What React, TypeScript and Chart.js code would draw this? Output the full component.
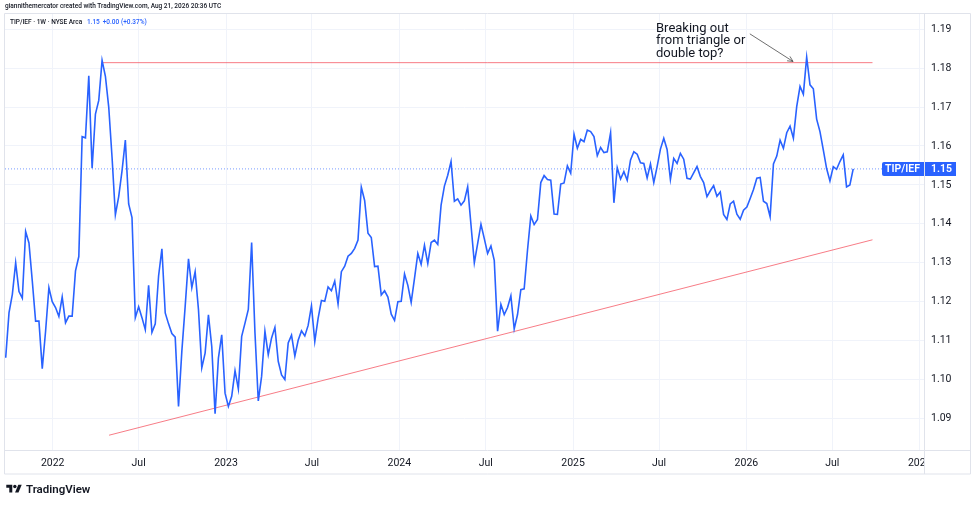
import React, { useEffect, useRef } from "react";
import { Chart, registerables } from "chart.js";

Chart.register(...registerables);

// ---- data ----
const startDate = "2021-09-24"; // first weekly bar
const values = [
  1.1056, 1.1172, 1.1219, 1.1300, 1.1226, 1.1209, 1.1380, 1.1351, 1.1253, 1.1150,
  1.1150, 1.1028, 1.1124, 1.1236, 1.1200, 1.1185, 1.1162, 1.1212, 1.1146, 1.1163,
  1.1163, 1.1279, 1.1316, 1.1624, 1.1621, 1.1780, 1.1543, 1.1682, 1.1717, 1.1820,
  1.1779, 1.1700, 1.1571, 1.1423, 1.1470, 1.1536, 1.1615, 1.1451, 1.1416, 1.1159,
  1.1187, 1.1159, 1.1128, 1.1242, 1.1121, 1.1143, 1.1266, 1.1336, 1.1171, 1.1143,
  1.1118, 1.1109, 1.0931, 1.1073, 1.1188, 1.1310, 1.1236, 1.1277, 1.1180, 1.1030,
  1.1068, 1.1166, 1.1085, 1.0912, 1.1055, 1.1115, 1.0965, 1.0931, 1.0957, 1.1023,
  1.0976, 1.1111, 1.1145, 1.1180, 1.1352, 1.1120, 1.0945, 1.1008, 1.1124, 1.1064,
  1.1107, 1.1134, 1.1047, 1.1012, 1.1000, 1.1094, 1.1114, 1.1060, 1.1101, 1.1125,
  1.1112, 1.1139, 1.1189, 1.1098, 1.1157, 1.1203, 1.1201, 1.1238, 1.1228, 1.1253,
  1.1194, 1.1277, 1.1291, 1.1317, 1.1324, 1.1337, 1.1358, 1.1494, 1.1460, 1.1376,
  1.1365, 1.1290, 1.1291, 1.1217, 1.1228, 1.1212, 1.1168, 1.1152, 1.1200, 1.1201,
  1.1271, 1.1242, 1.1198, 1.1260, 1.1324, 1.1296, 1.1345, 1.1298, 1.1352, 1.1358,
  1.1347, 1.1448, 1.1497, 1.1525, 1.1560, 1.1458, 1.1464, 1.1448, 1.1459, 1.1495,
  1.1397, 1.1300, 1.1349, 1.1399, 1.1362, 1.1324, 1.1343, 1.1306, 1.1124, 1.1193,
  1.1167, 1.1185, 1.1215, 1.1130, 1.1167, 1.1231, 1.1233, 1.1332, 1.1420, 1.1398,
  1.1411, 1.1506, 1.1524, 1.1514, 1.1512, 1.1425, 1.1424, 1.1502, 1.1505, 1.1549,
  1.1530, 1.1630, 1.1594, 1.1617, 1.1611, 1.1641, 1.1637, 1.1624, 1.1575, 1.1596,
  1.1583, 1.1585, 1.1634, 1.1454, 1.1544, 1.1515, 1.1534, 1.1512, 1.1564, 1.1585,
  1.1579, 1.1557, 1.1555, 1.1518, 1.1554, 1.1506, 1.1547, 1.1592, 1.1620, 1.1591,
  1.1514, 1.1568, 1.1555, 1.1581, 1.1566, 1.1517, 1.1515, 1.1531, 1.1547, 1.1522,
  1.1506, 1.1470, 1.1485, 1.1498, 1.1471, 1.1482, 1.1424, 1.1411, 1.1451, 1.1458,
  1.1425, 1.1412, 1.1435, 1.1443, 1.1465, 1.1488, 1.1517, 1.1519, 1.1458, 1.1452,
  1.1418, 1.1554, 1.1574, 1.1615, 1.1594, 1.1634, 1.1651, 1.1620, 1.1701, 1.1753,
  1.1733, 1.1828, 1.1757, 1.1747, 1.1669, 1.1637, 1.1590, 1.1542, 1.1510, 1.1547,
  1.1540, 1.1560, 1.1577, 1.1495, 1.1500, 1.1541,
];
const xTickDates = [
  "2022-01-01", "2022-07-01", "2023-01-01", "2023-07-01", "2024-01-01", "2024-07-01",
  "2025-01-01", "2025-07-01", "2026-01-01", "2026-07-01", "2027-01-01",
];
const xTickLabels = ["2022", "Jul", "2023", "Jul", "2024", "Jul", "2025", "Jul", "2026", "Jul", "2027"];
const yTicks = [1.09, 1.1, 1.11, 1.12, 1.13, 1.14, 1.15, 1.16, 1.17, 1.18, 1.19];

// drawn lines (x in weeks since start, y in ratio)
const resistanceX = [29, 260.8];
const resistanceY = [1.1814, 1.1814];
const trendX = [31.1, 260.8];
const trendY = [1.0857, 1.1359];
const arrowX = [223.9, 236.9];
const arrowY = [1.1888, 1.1817];

const symbol = "TIP/IEF";
const annotationLines = ["Breaking out", "from triangle or", "double top?"];

const weeksFrom = (d: string) =>
  (Date.parse(d + "T00:00:00Z") - Date.parse(startDate + "T00:00:00Z")) / (7 * 86400000);

const BLUE = "#2962ff";
const TEXT = "#131722";
const BORDER = "#e0e3eb";
const GRID = "#f0f3fa";
const FONT = "Roboto, 'Noto Sans', sans-serif";

const overlayPlugin = {
  id: "tvOverlay",
  afterDraw(chart: any) {
    const { ctx, chartArea } = chart;
    const xs = chart.scales.x;
    const ys = chart.scales.y;
    const W = chart.width;
    ctx.save();
    // cover the corner below the price axis (clips the last time label)
    ctx.fillStyle = "#ffffff";
    ctx.fillRect(chartArea.right + 1, chartArea.bottom + 1, W - chartArea.right - 1, 30);
    // frame
    ctx.strokeStyle = BORDER;
    ctx.lineWidth = 1;
    const outerR = W - 4.5;
    const outerB = chartArea.bottom + 24;
    ctx.beginPath();
    ctx.moveTo(chartArea.left - 0.5, chartArea.top - 0.5);
    ctx.lineTo(outerR, chartArea.top - 0.5);
    ctx.lineTo(outerR, outerB);
    ctx.lineTo(chartArea.left - 0.5, outerB);
    ctx.closePath();
    ctx.moveTo(chartArea.right + 0.5, chartArea.top - 0.5);
    ctx.lineTo(chartArea.right + 0.5, outerB);
    ctx.moveTo(chartArea.left - 0.5, chartArea.bottom + 0.5);
    ctx.lineTo(outerR, chartArea.bottom + 0.5);
    ctx.stroke();

    // arrow
    const ax0 = xs.getPixelForValue(arrowX[0]);
    const ay0 = ys.getPixelForValue(arrowY[0]);
    const ax1 = xs.getPixelForValue(arrowX[1]);
    const ay1 = ys.getPixelForValue(arrowY[1]);
    ctx.strokeStyle = "#4a4a4a";
    ctx.lineWidth = 0.8;
    ctx.beginPath();
    ctx.moveTo(ax0, ay0);
    ctx.lineTo(ax1, ay1);
    const ang = Math.atan2(ay1 - ay0, ax1 - ax0);
    const hl = 6;
    ctx.moveTo(ax1 - hl * Math.cos(ang - 0.45), ay1 - hl * Math.sin(ang - 0.45));
    ctx.lineTo(ax1, ay1);
    ctx.lineTo(ax1 - hl * Math.cos(ang + 0.45), ay1 - hl * Math.sin(ang + 0.45));
    ctx.stroke();

    // last price labels
    const last = values[values.length - 1];
    const py = Math.round(ys.getPixelForValue(last));
    const h = 14;
    ctx.fillStyle = BLUE;
    ctx.beginPath();
    const bx = chartArea.right - 42;
    ctx.moveTo(bx + 2, py - h / 2);
    ctx.lineTo(chartArea.right, py - h / 2);
    ctx.lineTo(chartArea.right, py + h / 2);
    ctx.lineTo(bx + 2, py + h / 2);
    ctx.quadraticCurveTo(bx, py + h / 2, bx, py + h / 2 - 2);
    ctx.lineTo(bx, py - h / 2 + 2);
    ctx.quadraticCurveTo(bx, py - h / 2, bx + 2, py - h / 2);
    ctx.fill();
    ctx.fillRect(chartArea.right + 1, py - h / 2, 31, h);
    ctx.fillStyle = "#ffffff";
    ctx.font = `600 10.5px ${FONT}`;
    ctx.textBaseline = "middle";
    ctx.textAlign = "center";
    ctx.fillText(symbol, bx + 20.5, py + 0.5);
    ctx.textAlign = "left";
    ctx.fillText(last.toFixed(2), chartArea.right + 7, py + 0.5);
    ctx.restore();
  },
};

export default function App() {
  const ref = useRef<HTMLCanvasElement | null>(null);

  useEffect(() => {
    document.body.style.margin = "0";
    if (!ref.current) return;
    const last = values[values.length - 1];
    const xMin = -0.21;
    const xMax = 276.3;
    const chart = new Chart(ref.current, {
      type: "line",
      data: {
        datasets: [
          {
            label: symbol,
            data: values.map((v, i) => ({ x: i, y: v })),
            borderColor: BLUE,
            borderWidth: 1.6,
            pointRadius: 0,
            tension: 0,
          },
          {
            label: "resistance",
            data: resistanceX.map((x, i) => ({ x, y: resistanceY[i] })),
            borderColor: "rgba(242,54,69,0.65)",
            borderWidth: 1,
            pointRadius: 0,
          },
          {
            label: "trend",
            data: trendX.map((x, i) => ({ x, y: trendY[i] })),
            borderColor: "rgba(242,54,69,0.65)",
            borderWidth: 1,
            pointRadius: 0,
          },
          {
            label: "last",
            data: [
              { x: xMin, y: last },
              { x: xMax, y: last },
            ],
            borderColor: "rgba(41,98,255,0.5)",
            borderWidth: 1.2,
            borderDash: [1, 2],
            pointRadius: 0,
          },
        ],
      },
      options: {
        animation: false,
        responsive: false,
        maintainAspectRatio: false,
        layout: { padding: { left: 5, top: 14, right: 5, bottom: 31 } },
        plugins: { legend: { display: false }, tooltip: { enabled: false } },
        scales: {
          x: {
            type: "linear",
            min: xMin,
            max: xMax,
            afterBuildTicks: (scale: any) => {
              scale.ticks = xTickDates.map((d) => ({ value: weeksFrom(d) }));
            },
            afterFit: (scale: any) => {
              scale.height = 24;
            },
            grid: { color: GRID, drawTicks: false },
            border: { display: false },
            ticks: {
              autoSkip: false,
              maxRotation: 0,
              padding: 7,
              color: TEXT,
              font: { family: FONT, size: 10.5 },
              callback: (_v: any, i: number) => xTickLabels[i],
            },
          },
          y: {
            type: "linear",
            position: "right",
            min: 1.0819,
            max: 1.1939,
            afterBuildTicks: (scale: any) => {
              scale.ticks = yTicks.map((v) => ({ value: v }));
            },
            afterFit: (scale: any) => {
              scale.width = 46;
            },
            grid: { color: GRID, drawTicks: false },
            border: { display: false },
            ticks: {
              padding: 7,
              color: TEXT,
              font: { family: FONT, size: 10.5 },
              callback: (v: any) => Number(v).toFixed(2),
            },
          },
        },
      },
      plugins: [overlayPlugin],
    });
    return () => chart.destroy();
  }, []);

  return (
    <div
      style={{
        position: "fixed",
        left: 0,
        top: 0,
        width: 975,
        height: 505,
        background: "#ffffff",
        fontFamily: FONT,
        overflow: "hidden",
      }}
    >
      <canvas ref={ref} width={975} height={505} style={{ position: "absolute", left: 0, top: 0, width: 975, height: 505 }} />
      <div style={{ position: "absolute", left: 5, top: 2, fontSize: 6.5, lineHeight: "9px", fontWeight: 500, color: TEXT, whiteSpace: "nowrap" }}>
        giannithemercator created with TradingView.com, Aug 21, 2026 20:36 UTC
      </div>
      <div style={{ position: "absolute", left: 10, top: 17.5, fontSize: 6.5, lineHeight: "9px", fontWeight: 500, color: TEXT, whiteSpace: "nowrap" }}>
        TIP/IEF · 1W · NYSE Arca <span style={{ color: BLUE, marginLeft: 3 }}>1.15</span>
        <span style={{ color: BLUE, marginLeft: 3 }}>+0.00 (+0.37%)</span>
      </div>
      <div style={{ position: "absolute", left: 656, top: 21.5, fontSize: 13, lineHeight: "12.7px", color: TEXT, whiteSpace: "nowrap" }}>
        {annotationLines.map((l, i) => (
          <div key={i}>{l}</div>
        ))}
      </div>
      <div style={{ position: "absolute", left: 6, top: 482, display: "flex", alignItems: "center", whiteSpace: "nowrap" }}>
        <svg width="16" height="12" viewBox="0 0 36 28" style={{ marginRight: 4 }}>
          <path d="M14 22H7V11H0V4h14v18z" fill={TEXT} />
          <circle cx="20" cy="8" r="4" fill={TEXT} />
          <path d="M20.5 22h8l7.5-18h-8z" fill={TEXT} />
        </svg>
        <span style={{ fontSize: 11.5, fontWeight: 600, color: TEXT, lineHeight: "14px" }}>TradingView</span>
      </div>
    </div>
  );
}
